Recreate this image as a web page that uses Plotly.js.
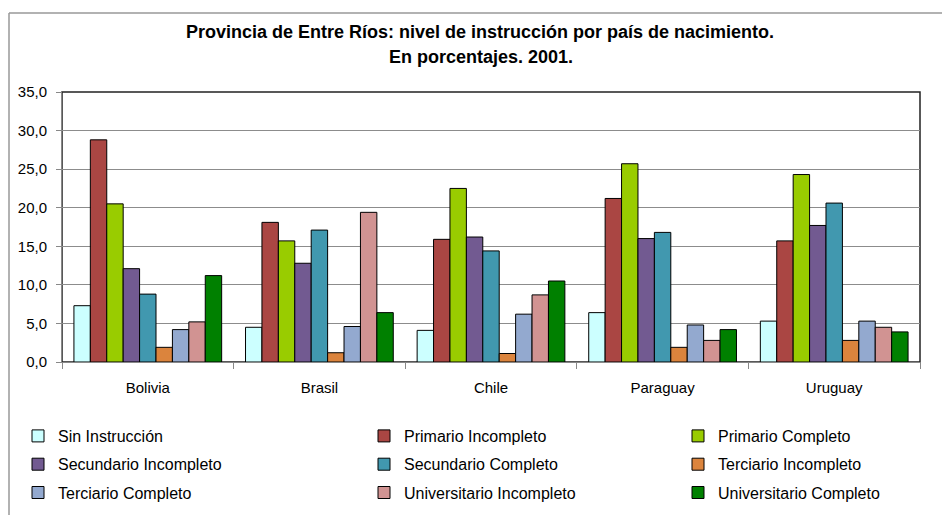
<!DOCTYPE html>
<html>
<head>
<meta charset="utf-8">
<script src="https://cdn.plot.ly/plotly-3.0.1.min.js"></script>
<style>
html,body{margin:0;padding:0;background:#fff;overflow:hidden;}
#chart{width:942px;height:515px;}
</style>
</head>
<body>
<div id="chart"></div>
<script>
// ---- data ----
const countries = ["Bolivia", "Brasil", "Chile", "Paraguay", "Uruguay"];
const seriesNames = [
  "Sin Instrucción", "Primario Incompleto", "Primario Completo",
  "Secundario Incompleto", "Secundario Completo", "Terciario Incompleto",
  "Terciario Completo", "Universitario Incompleto", "Universitario Completo"
];
const sinInstruccion      = [7.3, 4.5, 4.1, 6.4, 5.3];
const primarioIncompleto  = [28.8, 18.1, 15.9, 21.2, 15.7];
const primarioCompleto    = [20.5, 15.7, 22.5, 25.7, 24.3];
const secundarioIncompleto= [12.1, 12.8, 16.2, 16.0, 17.7];
const secundarioCompleto  = [8.8, 17.1, 14.4, 16.8, 20.6];
const terciarioIncompleto = [1.9, 1.2, 1.1, 1.9, 2.8];
const terciarioCompleto   = [4.2, 4.6, 6.2, 4.8, 5.3];
const universitarioIncompleto = [5.2, 19.4, 8.7, 2.8, 4.5];
const universitarioCompleto   = [11.2, 6.4, 10.5, 4.2, 3.9];
const yTicks = [0, 5, 10, 15, 20, 25, 30, 35];

const allValues = [sinInstruccion, primarioIncompleto, primarioCompleto,
  secundarioIncompleto, secundarioCompleto, terciarioIncompleto,
  terciarioCompleto, universitarioIncompleto, universitarioCompleto];
const colors = ["#CCFFFF", "#AA4643", "#99CC00", "#725A91", "#4198AF",
  "#DB843D", "#93A9CF", "#D19392", "#008000"];
// legend column for each series (3 columns, row-wise order)
const legendIds = ["legend", "legend2", "legend3"];

const traces = seriesNames.map((name, i) => ({
  type: "bar",
  name: name,
  x: countries,
  y: allValues[i],
  marker: {color: colors[i], line: {color: "#000", width: 1}},
  legend: legendIds[i % 3],
  legendgroup: "g" + i,
  hoverinfo: "x+y+name"
}));

// plot area pixels: left 62, right 920, top 92, bottom 362
const PL = 62, PR = 920, PT = 92, PB = 362;
const PW = PR - PL, PH = PB - PT;
const px = v => (v - PL) / PW;
const py = v => (PB - v) / PH;

const font = "Liberation Sans, Arial, sans-serif";
const legendBase = {
  orientation: "v",
  yanchor: "top",
  xanchor: "left",
  y: py(419),
  font: {family: font, size: 16, color: "#000"},
  bgcolor: "rgba(0,0,0,0)",
  tracegroupgap: 4.5,
  itemwidth: 30,
  itemclick: false,
  itemdoubleclick: false
};

const layout = {
  width: 942,
  height: 515,
  margin: {l: PL, r: 942 - PR, t: PT, b: 515 - PB, pad: 0, autoexpand: false},
  paper_bgcolor: "#fff",
  plot_bgcolor: "#fff",
  separators: ",.",
  font: {family: font, size: 15, color: "#000"},
  title: {
    text: "<b>Provincia de Entre Ríos: nivel de instrucción por país de nacimiento.</b>",
    font: {family: font, size: 18, color: "#000"},
    x: 480 / 942, xanchor: "center", xref: "container",
    y: 1 - 32 / 515, yanchor: "middle", yref: "container"
  },
  annotations: [{
    text: "<b>En porcentajes. 2001.</b>",
    xref: "paper", yref: "paper",
    x: px(481), y: py(57),
    xanchor: "center", yanchor: "middle",
    showarrow: false,
    font: {family: font, size: 18, color: "#000"}
  }],
  barmode: "group",
  bargap: 0.139,
  bargroupgap: 0,
  showlegend: true,
  xaxis: {
    type: "category",
    showgrid: false,
    showline: true, linecolor: "#888", linewidth: 1,
    ticks: "outside", tickson: "boundaries", ticklen: 6, tickcolor: "#888",
    ticklabelstandoff: 12,
    tickfont: {family: font, size: 15, color: "#000"},
    zeroline: false,
    fixedrange: true
  },
  yaxis: {
    range: [0, 35],
    tickvals: yTicks,
    tickformat: ".1f",
    showgrid: true, gridcolor: "#8c8c8c", gridwidth: 1,
    showline: true, linecolor: "#888", linewidth: 1,
    ticks: "outside", ticklen: 5, tickcolor: "#888",
    ticklabelstandoff: 6,
    tickfont: {family: font, size: 15, color: "#000"},
    zeroline: false,
    fixedrange: true
  },
  legend: Object.assign({}, legendBase, {x: px(18)}),
  legend2: Object.assign({}, legendBase, {x: px(364)}),
  legend3: Object.assign({}, legendBase, {x: px(678)}),
  shapes: [
    // plot area frame
    {type: "rect", xref: "paper", yref: "paper", x0: 0, x1: 1, y0: 0, y1: 1,
     line: {color: "#222", width: 1.5}, layer: "below"},
    // outer chart frame (left and top edges)
    {type: "line", xref: "paper", yref: "paper", x0: px(9), x1: px(9), y0: py(13), y1: py(530),
     line: {color: "#999", width: 1.5}},
    {type: "line", xref: "paper", yref: "paper", x0: px(9), x1: px(960), y0: py(13), y1: py(13),
     line: {color: "#999", width: 1.5}}
  ]
};

Plotly.newPlot("chart", traces, layout, {displayModeBar: false, staticPlot: true});
</script>
</body>
</html>
